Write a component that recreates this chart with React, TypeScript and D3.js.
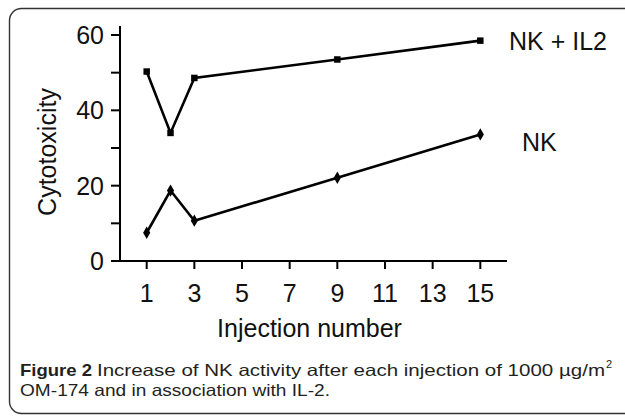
import React from "react";
import * as d3 from "d3";

const injections = [1, 2, 3, 9, 15];
const nkIl2 = [50.3, 34, 48.6, 53.5, 58.5];
const nk = [7.5, 18.7, 10.7, 22.1, 33.6];
const xTicks = [1, 3, 5, 7, 9, 11, 13, 15];
const yMajor = [0, 20, 40, 60];
const yMinor = [10, 30, 50];
const seriesLabels = ["NK + IL2", "NK"];
const yTitle = "Cytotoxicity";
const xTitle = "Injection number";
const captionBold = "Figure 2";
const captionLine1 = "Increase of NK activity after each injection of 1000 µg/m";
const captionSup = "2";
const captionLine2 = "OM-174 and in association with IL-2.";

export default function App() {
  const W = 625, H = 416;
  const x = d3.scaleLinear().domain([-0.12, 16.12]).range([120, 507]);
  const y = d3.scaleLinear().domain([0, 60]).range([261, 35]);
  const line = d3
    .line<number>()
    .x((_, i) => x(injections[i]))
    .y((d) => y(d));
  const font = "'Liberation Sans', Arial, sans-serif";
  const capFont = "'Liberation Sans', Arial, sans-serif";
  const fs = 25;
  const capFs = 16.5;
  const sq = d3.symbol().type(d3.symbolSquare).size(42)();
  const dm = d3.symbol().type(d3.symbolDiamond).size(44)();

  return (
    <svg
      width={W}
      height={H}
      style={{ position: "absolute", left: 0, top: 0, background: "#fff" }}
    >
      <rect x={0} y={0} width={W} height={H} fill="#fff" />
      <rect
        x={9.5}
        y={8.5}
        width={700}
        height={405}
        rx={12}
        fill="none"
        stroke="#333"
        strokeWidth={1.4}
      />
      {/* axes */}
      <line x1={x.range()[0]} x2={x.range()[0]} y1={y(0)} y2={26} stroke="#000" strokeWidth={2} />
      <line x1={x.range()[0]} x2={x.range()[1]} y1={y(0)} y2={y(0)} stroke="#000" strokeWidth={2} />
      {[...yMajor, ...yMinor].map((v) => (
        <line key={"yt" + v} x1={111} x2={120} y1={y(v)} y2={y(v)} stroke="#000" strokeWidth={2} />
      ))}
      {yMajor.map((v) => (
        <text
          key={"yl" + v}
          x={104}
          y={y(v)}
          dy="0.36em"
          textAnchor="end"
          fontFamily={font}
          fontSize={fs}
          fill="#111"
        >
          {v}
        </text>
      ))}
      {xTicks.map((v) => (
        <g key={"xt" + v}>
          <line x1={x(v)} x2={x(v)} y1={y(0)} y2={y(0) + 8} stroke="#000" strokeWidth={2} />
          <text
            x={x(v)}
            y={302}
            textAnchor="middle"
            fontFamily={font}
            fontSize={fs}
            fill="#111"
          >
            {v}
          </text>
        </g>
      ))}
      <text
        transform={`translate(56,152) rotate(-90)`}
        textAnchor="middle"
        fontFamily={font}
        fontSize={fs}
        fill="#111"
      >
        {yTitle}
      </text>
      <text x={309.5} y={337} textAnchor="middle" fontFamily={font} fontSize={fs} fill="#111">
        {xTitle}
      </text>
      {/* series */}
      <path d={line(nkIl2) || ""} fill="none" stroke="#000" strokeWidth={2.6} />
      <path d={line(nk) || ""} fill="none" stroke="#000" strokeWidth={2.6} />
      {nkIl2.map((v, i) => (
        <path key={"s" + i} d={sq || ""} transform={`translate(${x(injections[i])},${y(v)})`} fill="#000" />
      ))}
      {nk.map((v, i) => (
        <path key={"d" + i} d={dm || ""} transform={`translate(${x(injections[i])},${y(v)})`} fill="#000" />
      ))}
      <text x={509} y={50} fontFamily={font} fontSize={fs} fill="#111">
        {seriesLabels[0]}
      </text>
      <text x={522} y={151} fontFamily={font} fontSize={fs} fill="#111">
        {seriesLabels[1]}
      </text>
      {/* caption */}
      <text
        x={20}
        y={376}
        fontFamily={capFont}
        fontSize={capFs}
        fontWeight="bold"
        fill="#231f20"
        textLength={72}
        lengthAdjust="spacingAndGlyphs"
      >
        {captionBold}
      </text>
      <text
        x={97}
        y={376}
        fontFamily={capFont}
        fontSize={capFs}
        fill="#231f20"
        textLength={508}
        lengthAdjust="spacingAndGlyphs"
      >
        {captionLine1}
      </text>
      <text x={606} y={368} fontFamily={capFont} fontSize={11} fill="#231f20">
        {captionSup}
      </text>
      <text
        x={20}
        y={395.5}
        fontFamily={capFont}
        fontSize={capFs}
        fill="#231f20"
        textLength={310}
        lengthAdjust="spacingAndGlyphs"
      >
        {captionLine2}
      </text>
    </svg>
  );
}
